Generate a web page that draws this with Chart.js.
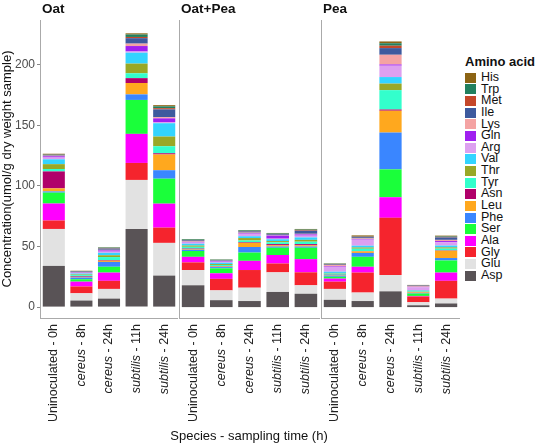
<!DOCTYPE html>
<html>
<head>
<meta charset="utf-8">
<script src="https://cdn.jsdelivr.net/npm/chart.js@4"></script>
<style>
  body { margin: 0; background: #fff; font-family: "Liberation Sans", Arial, sans-serif; }
  #wrap { position: relative; width: 535px; height: 444px; }
  .panel { position: absolute; top: 0; height: 444px; }
  #legend { position: absolute; left: 465px; top: 54px; font-size: 12.5px; color: #111; white-space: nowrap; }
  #legend .ttl { font-weight: bold; font-size: 13px; margin-bottom: 3px; }
  #legend .it { height: 11.65px; line-height: 11.65px; display: flex; align-items: center; }
  #legend .sw { width: 11px; height: 10px; margin-right: 5px; }
  #xtitle { position: absolute; left: 40px; width: 418px; top: 428px; text-align: center; font-size: 13px; color: #111; }
</style>
</head>
<body>
<div id="wrap">
  <div class="panel" style="left:0;width:178px"><canvas id="c0"></canvas></div>
  <div class="panel" style="left:178px;width:142px"><canvas id="c1"></canvas></div>
  <div class="panel" style="left:320px;width:140px"><canvas id="c2"></canvas></div>
  <div id="legend"></div>
  <div id="xtitle">Species - sampling time (h)</div>
</div>
<script>
// facets and sample labels (species part is italic)
const facets = ['Oat', 'Oat+Pea', 'Pea'];
const species = ['', 'cereus', 'cereus', 'subtilis', 'subtilis'];
const times = ['Uninoculated - 0h', ' - 8h', ' - 24h', ' - 11h', ' - 24h'];
const yTicks = [0, 50, 100, 150, 200];

// stacking order bottom -> top
const aminoNames = ['Asp', 'Glu', 'Gly', 'Ala', 'Ser', 'Phe', 'Leu', 'Asn', 'Tyr', 'Thr', 'Val', 'Arg', 'Gln', 'Lys', 'Ile', 'Met', 'Trp', 'His'];
const aminoColors = ['#595356', '#e2e2e2', '#f5242d', '#ff00ff', '#1aff3a', '#3a86ff', '#ffa81e', '#b0006a', '#33ffcc', '#99a826', '#33d4ff', '#dda0f0', '#a020f0', '#f4a3a3', '#3d5a9e', '#c4472a', '#21805f', '#8c6414'];

// values: Oat x5 | Oat+Pea x5 | Pea x5
const asp = [34, 5.4, 7, 64.5, 26, 18, 5.7, 5, 12.5, 11, 6, 5, 13, 1.5, 3];
const glu = [30.5, 6, 8, 40.5, 27, 12.6, 8.1, 11, 16.2, 7, 9, 7, 13.5, 2.5, 4];
const gly = [7, 5.6, 6.7, 14, 12.6, 6.3, 9.5, 14.6, 7.3, 10.7, 6, 16.5, 47.2, 4.7, 14.7];
const ala = [14, 4, 6.8, 24, 19.8, 4.6, 4.6, 7.6, 7, 10.9, 2.5, 4.8, 17, 0.5, 6.8];
const ser = [9, 2, 4.8, 28, 20.6, 4.8, 4.1, 6.8, 6, 9.4, 1.5, 8.2, 23, 2, 10];
const phe = [1, 1.4, 4, 4.6, 7, 1, 1, 4.6, 1, 1, 1, 3.2, 30.4, 0.5, 2];
const leu = [2.5, 0.5, 1, 9.4, 13, 0.5, 0.5, 3.4, 1, 1, 0.5, 1.3, 18, 0.5, 6];
const asn = [14, 0.5, 0.5, 4, 1, 0.5, 0.3, 0.5, 1, 1, 0.2, 0.2, 1, 0.2, 0.3];
const tyr = [2, 1, 2.5, 4, 5.8, 1.5, 1, 1.5, 1.5, 2, 1, 2, 16, 0.5, 1.5];
const thr = [4, 0.5, 1.5, 8, 8, 1, 0.8, 2, 1, 1.5, 0.5, 1, 5.4, 0.5, 1];
const val = [4, 0.8, 2, 9, 11, 1.5, 1, 1.5, 1.5, 2, 1, 1.5, 5.4, 0.5, 1.5];
const arg = [1.5, 0.5, 1, 1, 1, 1, 0.8, 2, 0.5, 1.5, 4, 5, 9.4, 2.5, 2.7];
const gln = [1, 0.3, 1, 4.5, 3, 0.5, 0.5, 0.5, 2.5, 1, 0.5, 0.5, 1, 0.3, 1];
const lys = [0.5, 0.3, 0.5, 2, 1, 0.5, 0.3, 0.5, 0.3, 0.5, 1, 0.5, 8, 0.5, 1];
const ile = [0.5, 0.5, 1, 4.5, 6.4, 0.8, 0.5, 1, 0.8, 2.5, 0.5, 1, 5.5, 0.5, 2];
const met = [0.3, 0.2, 0.3, 1, 1, 0.3, 0.2, 0.3, 0.3, 0.5, 0.3, 0.5, 2, 0.2, 0.5];
const trp = [0.5, 0.3, 0.5, 2, 1.5, 0.5, 0.3, 0.5, 0.5, 0.5, 0.3, 0.5, 2, 0.2, 0.5];
const his = [0.3, 0.2, 0.3, 1, 1, 0.3, 0.2, 0.3, 0.3, 0.5, 0.3, 0.5, 1.5, 0.2, 0.5];
const series = [asp, glu, gly, ala, ser, phe, leu, asn, tyr, thr, val, arg, gln, lys, ile, met, trp, his];

// draws facet title + rotated x labels with mixed italic
const facetDecor = {
  id: 'facetDecor',
  afterDraw(chart, args, opts) {
    const ctx = chart.ctx;
    const xs = chart.scales.x;
    ctx.save();
    ctx.fillStyle = '#111';
    ctx.font = 'bold 13.5px "Liberation Sans", Arial';
    ctx.textBaseline = 'alphabetic';
    ctx.textAlign = 'left';
    ctx.fillText(opts.title, chart.chartArea.left + 2, 13);
    const yTop = chart.chartArea.bottom + 6;
    for (let i = 0; i < species.length; i++) {
      const x = xs.getPixelForValue(i);
      const f1 = 'italic 12.5px "Liberation Sans", Arial';
      const f2 = '12.5px "Liberation Sans", Arial';
      ctx.font = f1; const w1 = ctx.measureText(species[i]).width;
      ctx.font = f2; const w2 = ctx.measureText(times[i]).width;
      ctx.save();
      ctx.translate(x, yTop);
      ctx.rotate(-Math.PI / 2);
      ctx.textBaseline = 'middle';
      ctx.fillStyle = '#222';
      ctx.font = f1; ctx.fillText(species[i], -(w1 + w2), 0);
      ctx.font = f2; ctx.fillText(times[i], -w2, 0);
      ctx.restore();
    }
    ctx.restore();
  }
};

facets.forEach((name, f) => {
  const first = f === 0;
  new Chart(document.getElementById('c' + f), {
    type: 'bar',
    data: {
      labels: species.map((s, i) => s + times[i]),
      datasets: aminoNames.map((a, k) => ({
        label: a,
        data: series[k].slice(f * 5, f * 5 + 5),
        backgroundColor: aminoColors[k],
        borderWidth: 0,
        barPercentage: 0.8,
        categoryPercentage: 1
      }))
    },
    plugins: [facetDecor],
    options: {
      responsive: true,
      maintainAspectRatio: false,
      animation: false,
      layout: { padding: { top: 20, bottom: 126, left: 0, right: 0 } },
      plugins: { legend: { display: false }, tooltip: { enabled: false }, facetDecor: { title: name } },
      scales: {
        x: {
          stacked: true,
          grid: { display: false },
          ticks: { display: false },
          border: { color: '#aaa', width: 1 },
          afterFit: s => { s.height = 0; }
        },
        y: {
          stacked: true,
          min: -9, max: 237,
          afterBuildTicks: s => { s.ticks = yTicks.map(v => ({ value: v })); },
          grid: { display: first, drawOnChartArea: false, tickLength: 3, color: '#888' },
          ticks: { display: first, color: '#4d4d4d', font: { size: 12, family: '"Liberation Sans", Arial' }, padding: 2 },
          border: { color: '#aaa', width: 1 },
          title: { display: first, text: 'Concentration(umol/g dry weight sample)', color: '#111', font: { size: 13, family: '"Liberation Sans", Arial' }, padding: 0 },
          afterFit: s => { s.width = first ? 40 : 1; }
        }
      }
    }
  });
});

const lg = document.getElementById('legend');
let html = '<div class="ttl">Amino acid</div>';
for (let k = aminoNames.length - 1; k >= 0; k--) {
  html += `<div class="it"><span class="sw" style="background:${aminoColors[k]}"></span>${aminoNames[k]}</div>`;
}
lg.innerHTML = html;
</script>
</body>
</html>
